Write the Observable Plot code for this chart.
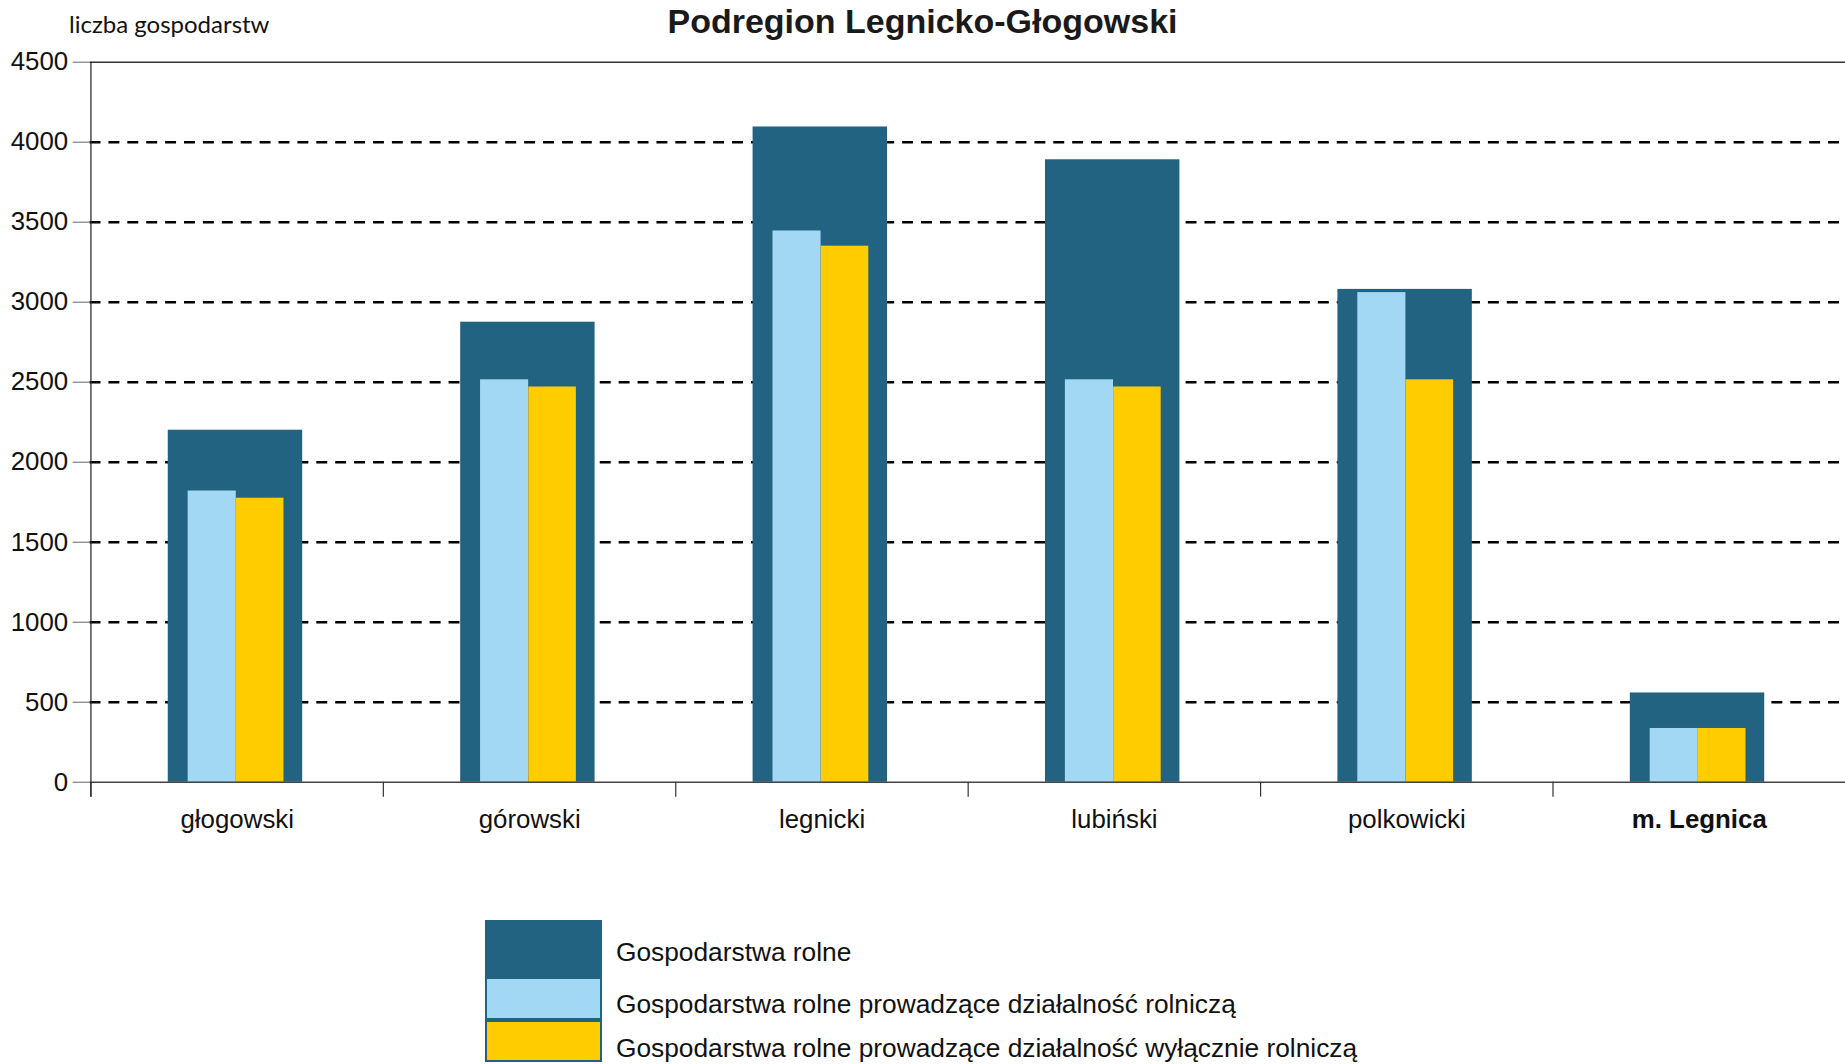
<!DOCTYPE html>
<html>
<head>
<meta charset="utf-8">
<script src="https://cdn.jsdelivr.net/npm/d3@7"></script>
<script src="https://cdn.jsdelivr.net/npm/@observablehq/plot@0.6"></script>
<style>
  html, body { margin: 0; padding: 0; background: #fff; }
  #wrap { position: relative; width: 1845px; height: 1064px; overflow: hidden; font-family: "Liberation Sans", Arial, sans-serif; }
  #ylabel { position: absolute; left: 69px; top: 9px; font-family: Lato, "Open Sans", sans-serif; font-size: 24px; color: #111; line-height: normal; }
  #title { position: absolute; left: 0; width: 1845px; top: 2px; text-align: center; font-size: 34px; font-weight: bold; color: #1a1a1a; }
  #chart { position: absolute; left: 0; top: 0; }
  #legend { position: absolute; left: 485px; top: 920px; }
  .sw { position: absolute; left: 0; width: 117px; box-sizing: border-box; }
  .lt { position: absolute; left: 131px; font-size: 26.3px; color: #111; white-space: nowrap; }
</style>
</head>
<body>
<div id="wrap">
  <div id="chart"></div>
  <div id="ylabel"></div>
  <div id="title"></div>
  <div id="legend"></div>
</div>
<script>
const titleText = "Podregion Legnicko-Głogowski";
const yLabelText = "liczba gospodarstw";
const categories = ["głogowski", "górowski", "legnicki", "lubiński", "polkowicki", "m. Legnica"];
const boldCategories = ["m. Legnica"];
const seriesNames = [
  "Gospodarstwa rolne",
  "Gospodarstwa rolne prowadzące działalność rolniczą",
  "Gospodarstwa rolne prowadzące działalność wyłącznie rolniczą"
];
const totalFarms = [2200, 2875, 4095, 3890, 3080, 558];
const activeFarms = [1820, 2515, 3445, 2515, 3060, 336];
const exclusiveFarms = [1775, 2470, 3350, 2470, 2515, 336];
const yTicks = [0, 500, 1000, 1500, 2000, 2500, 3000, 3500, 4000, 4500];
const colors = ["#236382", "#a3d8f5", "#ffcc00"];

document.getElementById("title").textContent = titleText;
document.getElementById("ylabel").textContent = yLabelText;

const W = 1855, H = 870, mT = 62, mB = 84, mL = 90, mR = 0;
const plotH = H - mT - mB;
const bw = (W - mL - mR) / categories.length;

const rows = categories.map((c, i) => ({c, total: totalFarms[i], active: activeFarms[i], excl: exclusiveFarms[i]}));

const chart = Plot.plot({
  width: W, height: H,
  marginTop: mT, marginBottom: mB, marginLeft: mL, marginRight: mR,
  style: {fontFamily: "'Liberation Sans', Arial, sans-serif", background: "transparent"},
  x: {type: "band", domain: categories, padding: 0, axis: null},
  y: {domain: [0, 4500], axis: null},
  marks: [
    Plot.ruleY(yTicks.filter(d => d > 0 && d < 4500), {y: d => d, stroke: "#000", strokeWidth: 2.5, strokeDasharray: "11,8"}),
    Plot.ruleY([4500], {y: d => d, stroke: "#333", strokeWidth: 1.5}),
    Plot.barY(rows, {x: "c", y: "total", fill: colors[0], insetLeft: bw * 0.264, insetRight: bw * 0.276}),
    Plot.barY(rows, {x: "c", y: "active", fill: colors[1], insetLeft: bw * 0.332, insetRight: bw * 0.503}),
    Plot.barY(rows, {x: "c", y: "excl", fill: colors[2], insetLeft: bw * 0.497, insetRight: bw * 0.34}),
    Plot.ruleY([0], {y: d => d, stroke: "#444", strokeWidth: 1.5}),
    Plot.ruleX(categories, {x: d => d, dx: -bw / 2, insetTop: plotH, insetBottom: -15, stroke: "#333", strokeWidth: 1.2}),
    Plot.ruleX([categories[0]], {x: d => d, dx: -bw / 2, insetBottom: -15, stroke: "#222", strokeWidth: 1.2}),
    Plot.axisY({ticks: yTicks, tickSize: 17, tickPadding: 5, fontSize: 26, stroke: "#666", fill: "#111", label: null, tickFormat: d => String(d)}),
    Plot.text(categories.filter(c => !boldCategories.includes(c)), {x: d => d, frameAnchor: "bottom", lineAnchor: "middle", dy: 38, fontSize: 26, fill: "#111"}),
    Plot.text(boldCategories, {x: d => d, frameAnchor: "bottom", lineAnchor: "middle", dy: 38, fontSize: 26, fontWeight: "bold", fill: "#111"})
  ]
});
document.getElementById("chart").appendChild(chart);

const legend = document.getElementById("legend");
const swatches = [
  {top: 0, h: 59},
  {top: 59, h: 41},
  {top: 100, h: 42}
];
const baselines = [41, 93.5, 137.5];
seriesNames.forEach((name, i) => {
  const sw = document.createElement("div");
  sw.className = "sw";
  sw.style.top = swatches[i].top + "px";
  sw.style.height = swatches[i].h + "px";
  sw.style.background = colors[i];
  if (i > 0) {
    sw.style.border = "2px solid " + colors[0];
    if (i === 1) sw.style.borderTop = "none";
  }
  legend.appendChild(sw);
  const t = document.createElement("div");
  t.className = "lt";
  t.style.top = (baselines[i] - 0.921 * 26.3) + "px";
  t.textContent = name;
  legend.appendChild(t);
});
</script>
</body>
</html>
